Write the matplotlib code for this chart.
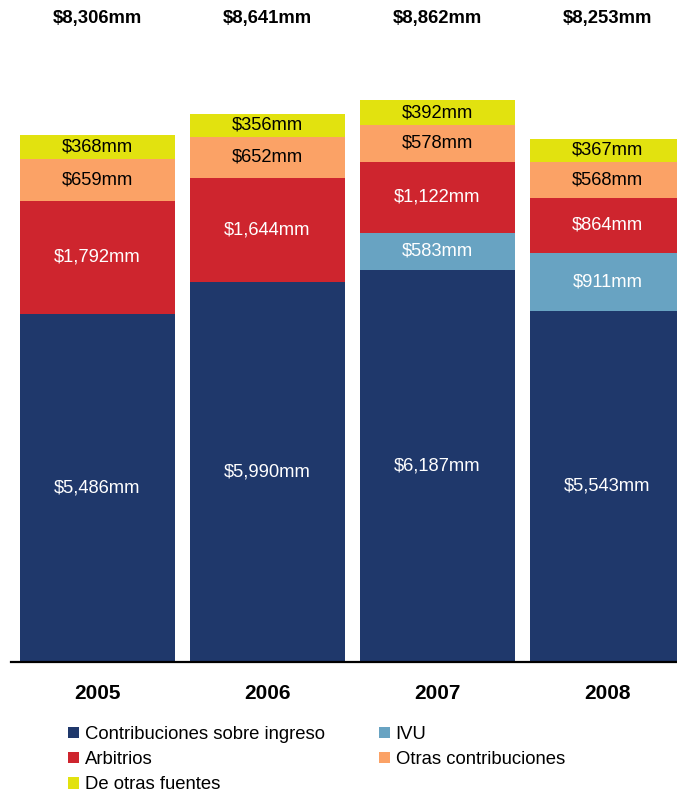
import matplotlib
matplotlib.use("Agg")
import matplotlib.pyplot as plt
import matplotlib.transforms as mtransforms
from matplotlib.patches import Rectangle
import numpy as np

plt.rcParams['font.family'] = ['Liberation Sans', 'DejaVu Sans']

# Data (millions of dollars)
years = ["2005", "2006", "2007", "2008"]
contribuciones = [5486, 5990, 6187, 5543]
ivu = [0, 0, 583, 911]
arbitrios = [1792, 1644, 1122, 864]
otras_contrib = [659, 652, 578, 568]
otras_fuentes = [368, 356, 392, 367]
totals = ["$8,306mm", "$8,641mm", "$8,862mm", "$8,253mm"]

series = [
    ("Contribuciones sobre ingreso", contribuciones, "#1F386B", "white"),
    ("IVU", ivu, "#68A3C2", "white"),
    ("Arbitrios", arbitrios, "#CE252E", "white"),
    ("Otras contribuciones", otras_contrib, "#FBA266", "black"),
    ("De otras fuentes", otras_fuentes, "#E2E20F", "black"),
]

W, H = 677, 792
fig = plt.figure(figsize=(W / 100, H / 100), dpi=100)

base_px = 662
ax = fig.add_axes([11 / W, (H - base_px) / H, 680 / W, base_px / H])

x = np.arange(len(years))
bottom = np.zeros(len(years))
handles = {}
for name, vals, color, tcolor in series:
    vals = np.array(vals, dtype=float)
    ax.bar(x, vals, width=0.912, bottom=bottom, color=color,
           edgecolor="none", linewidth=0, zorder=2)
    handles[name] = Rectangle((0, 0), 1, 1, facecolor=color, edgecolor="none")
    for xi, v, b in zip(x, vals, bottom):
        if v > 0:
            ax.text(xi, b + v / 2, f"${v:,.0f}mm", ha="center", va="center",
                    color=tcolor, fontsize=13.2, zorder=3)
    bottom = bottom + vals

ax.set_xlim(-0.509, 3.491)
ax.set_ylim(0, base_px / 0.0634)

# Totals above each bar
trans = mtransforms.blended_transform_factory(ax.transData, fig.transFigure)
for xi, t in zip(x, totals):
    ax.text(xi, 1 - 18 / H, t, transform=trans, ha="center", va="center",
            fontsize=13.3, fontweight="bold", clip_on=False)

ax.set_xticks(x)
ax.set_xticklabels(years, fontsize=15, fontweight="bold")
ax.tick_params(axis="x", length=0, pad=16)
ax.set_yticks([])
for s in ["top", "right", "left"]:
    ax.spines[s].set_visible(False)
ax.spines["bottom"].set_linewidth(1.6)
ax.spines["bottom"].set_color("black")

order = ["Contribuciones sobre ingreso", "Arbitrios", "De otras fuentes",
         "IVU", "Otras contribuciones"]
fig.legend([handles[n] for n in order], order, ncol=2, frameon=False,
           loc="upper left", bbox_to_anchor=(68 / W, 1 - 726 / H),
           fontsize=13.3, handlelength=0.6, handleheight=0.6,
           handletextpad=0.3, columnspacing=2.95, labelspacing=0.44,
           borderpad=0, borderaxespad=0)

fig.savefig("out.png", dpi=100)
